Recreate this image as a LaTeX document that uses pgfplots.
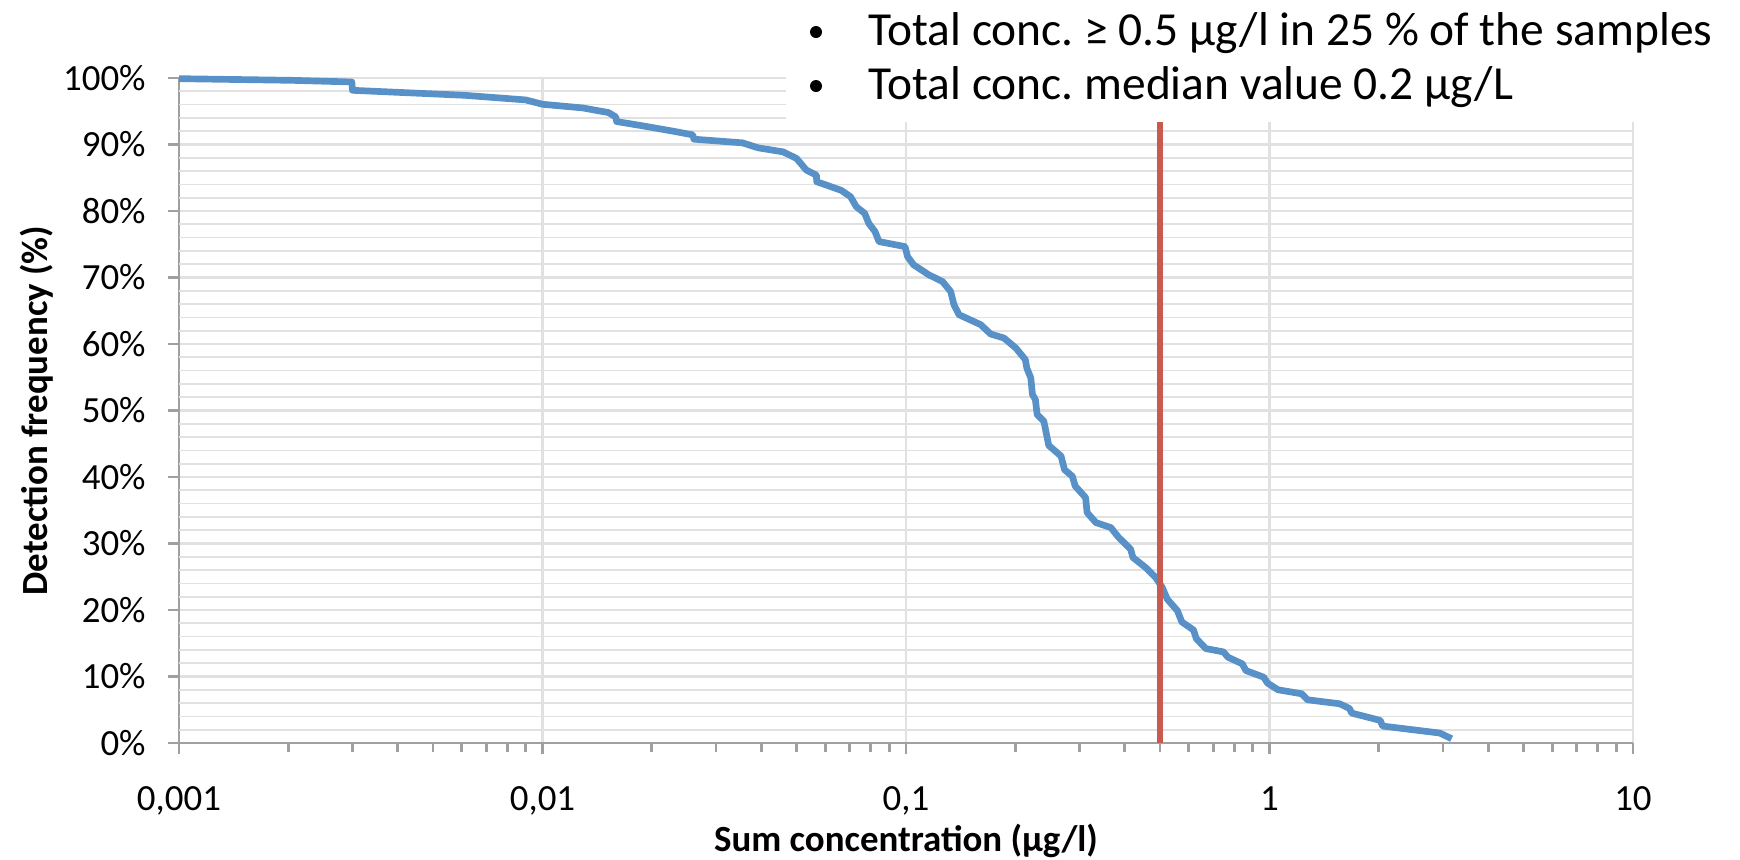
\documentclass[border=0pt]{standalone}
\usepackage{pgfplots}
\pgfplotsset{compat=1.18}
\usepackage{fontspec}
\setmainfont{Carlito}
\frenchspacing
\definecolor{curveblue}{RGB}{88,145,200}
\definecolor{markred}{RGB}{200,90,80}
\definecolor{axisgray}{RGB}{160,160,160}
\definecolor{gridgray}{RGB}{225,225,225}

\begin{document}
\begin{tikzpicture}
\begin{axis}[
    at={(0,0)}, anchor=south west,
    scale only axis,
    width=14.54cm, height=6.65cm,
    xmode=log,
    xmin=0.001, xmax=10,
    ymin=0, ymax=100,
    axis x line*=bottom, axis y line*=left,
    axis line style={draw=axisgray, line width=0.8pt, -},
    xtick={0.001,0.01,0.1,1,10},
    xticklabels={{0,001},{0,01},{0,1},1,10},
    minor xtick={0.002,0.003,0.004,0.005,0.006,0.007,0.008,0.009,
                 0.02,0.03,0.04,0.05,0.06,0.07,0.08,0.09,
                 0.2,0.3,0.4,0.5,0.6,0.7,0.8,0.9,
                 2,3,4,5,6,7,8,9},
    ytick={0,10,...,100},
    yticklabels={0\%,10\%,20\%,30\%,40\%,50\%,60\%,70\%,80\%,90\%,100\%},
    extra y ticks={2,4,6,8,12,14,16,18,22,24,26,28,32,34,36,38,42,44,46,48,
                   52,54,56,58,62,64,66,68,72,74,76,78,82,84,86,88,92,94,96,98},
    extra y tick labels={},
    extra y tick style={grid=major, major tick length=0pt,
        major grid style={draw=gridgray, line width=0.5pt}},
    xmajorgrids, ymajorgrids,
    major grid style={draw=gridgray, line width=0.6pt},
    tick align=outside,
    major tick length=0.11cm,
    minor tick length=0.09cm,
    tick style={draw=axisgray, line width=0.8pt},
    ticklabel style={font=\fontsize{10.5}{12}\selectfont},
    xticklabel style={yshift=-0.2cm},
    yticklabel style={xshift=-0.1cm},
    xlabel={\textbf{Sum concentration (µg/l)}},
    ylabel={\textbf{Detection frequency (\%)}},
    label style={font=\fontsize{10.5}{12}\selectfont},
    xlabel style={at={(0.5,-0.98cm)}, anchor=center},
    ylabel style={at={(-1.42cm,0.5)}, anchor=center},
    clip=false,
]
\addplot[curveblue, line width=1.9pt, line join=round] coordinates {
(0.001,99.9) (0.00205,99.65) (0.00299,99.4) (0.00300,98.15) (0.0061,97.4)
(0.0090,96.7) (0.0100,96.05) (0.0129,95.5) (0.0152,94.8) (0.0159,94.15)
(0.0160,93.45) (0.0189,92.8) (0.0229,92.0) (0.0259,91.45) (0.0261,90.8)
(0.0355,90.25) (0.0392,89.5) (0.0459,88.9) (0.0500,87.9) (0.0532,86.15)
(0.0567,85.4) (0.0568,84.4) (0.0604,83.9) (0.0664,83.1) (0.0704,82.15)
(0.0730,80.65) (0.0770,79.65) (0.0790,78.15) (0.0822,76.9) (0.0843,75.4)
(0.0994,74.65) (0.1010,73.15) (0.105,71.9) (0.1156,70.4) (0.126,69.4)
(0.1327,67.9) (0.1355,65.9) (0.140,64.4) (0.1606,62.9) (0.171,61.5)
(0.186,60.9) (0.2005,59.4) (0.213,57.65) (0.215,56.4) (0.2205,54.9)
(0.2228,52.4) (0.227,51.65) (0.2295,49.4) (0.2395,48.4) (0.2425,46.9)
(0.247,44.75) (0.267,43.15) (0.273,41.1) (0.287,40.1) (0.292,38.65)
(0.312,36.9) (0.315,34.65) (0.333,33.15) (0.366,32.4) (0.385,30.9)
(0.415,29.15) (0.421,27.9) (0.456,26.4) (0.486,24.9) (0.507,23.4)
(0.523,21.65) (0.558,19.9) (0.574,18.2) (0.618,17.0) (0.629,15.7)
(0.668,14.2) (0.747,13.7) (0.769,12.9) (0.842,11.9) (0.861,10.9)
(0.964,9.9) (0.988,9.0) (1.056,8.0) (1.227,7.4) (1.272,6.5)
(1.56,5.9) (1.659,5.2) (1.683,4.5) (2.017,3.4) (2.047,2.55)
(2.94,1.5) (3.17,0.65)
};
\addplot[markred, line width=1.6pt] coordinates {(0.5,0) (0.5,100)};
\end{axis}
% text box over the top right of the plot
\fill[white] (6.07,6.21) rectangle (15.61,7.43);
\begin{scope}[font=\fontsize{13.5}{16}\selectfont]
\fill (6.37,7.11) circle (0.06cm);
\node[anchor=west, inner sep=0pt] at (6.89,7.10) {Total conc. ≥ 0.5 µg/l in 25 \% of the samples};
\fill (6.37,6.57) circle (0.06cm);
\node[anchor=west, inner sep=0pt] at (6.89,6.56) {Total conc. median value 0.2 µg/L};
\end{scope}
\pgfresetboundingbox
\useasboundingbox (-1.79,-1.16) rectangle (15.61,7.43);
\end{tikzpicture}
\end{document}
